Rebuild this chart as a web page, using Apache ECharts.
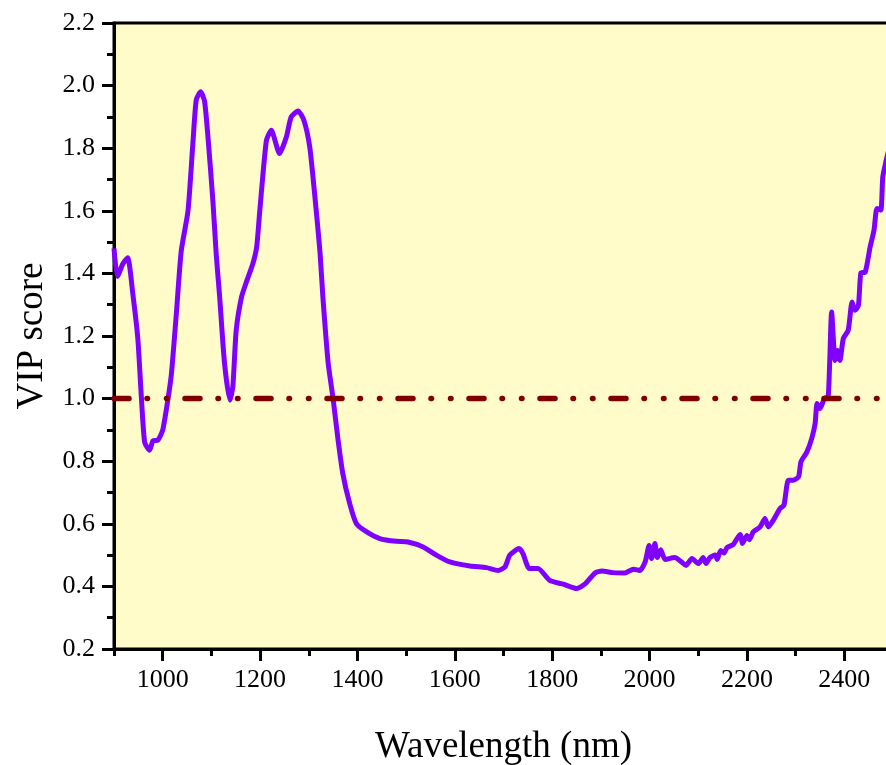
<!DOCTYPE html>
<html>
<head>
<meta charset="utf-8">
<script src="https://cdn.jsdelivr.net/npm/echarts@6/dist/echarts.min.js"></script>
<style>
  html, body { margin: 0; padding: 0; background: #fff; }
  #chart { width: 886px; height: 765px; }
</style>
</head>
<body>
<div id="chart"></div>
<script>
// wavelength (nm) and VIP score
var wavelength = [900, 907, 918, 928, 939, 949, 956, 963, 973, 980, 990, 1000, 1011, 1018, 1028, 1038,
  1052, 1062, 1069, 1078, 1086, 1093, 1103, 1110, 1117, 1127, 1138, 1144, 1151, 1162, 1172, 1185, 1193,
  1199, 1213, 1223, 1240, 1254, 1264, 1278, 1290, 1302, 1312, 1323, 1329, 1340, 1350, 1360, 1370, 1384,
  1398, 1419, 1446, 1480, 1504, 1535, 1562, 1590, 1631, 1665, 1689, 1703, 1713, 1732, 1740, 1753, 1771,
  1795, 1823, 1850, 1867, 1888, 1902, 1925, 1949, 1967, 1980, 1991, 1999, 2004, 2011, 2016, 2023, 2032,
  2052, 2063, 2075, 2087, 2100, 2110, 2116, 2124, 2135, 2139, 2146, 2153, 2159, 2172, 2186, 2191, 2200,
  2205, 2213, 2227, 2237, 2244, 2254, 2268, 2276, 2285, 2295, 2306, 2311, 2323, 2333, 2340, 2344, 2350,
  2359, 2367, 2374, 2381, 2386, 2391, 2398, 2408, 2416, 2422, 2429, 2434, 2443, 2453, 2461, 2467, 2475,
  2479, 2486, 2492];
var vipScore = [1.48, 1.39, 1.43, 1.45, 1.33, 1.19, 1.01, 0.86, 0.835, 0.865, 0.867, 0.899, 1.0, 1.08, 1.27, 1.47,
  1.6, 1.815, 1.955, 1.98, 1.95, 1.836, 1.634, 1.46, 1.325, 1.113, 0.995, 1.037, 1.218, 1.325, 1.373, 1.43, 1.484,
  1.592, 1.825, 1.857, 1.783, 1.836, 1.9, 1.919, 1.889, 1.804, 1.655, 1.47, 1.325, 1.112, 1.0, 0.87, 0.76, 0.665,
  0.6, 0.574, 0.553, 0.544, 0.542, 0.526, 0.5, 0.478, 0.465, 0.46, 0.451, 0.462, 0.5, 0.521, 0.505, 0.457, 0.457,
  0.419, 0.407, 0.393, 0.407, 0.443, 0.449, 0.444, 0.443, 0.455, 0.451, 0.478, 0.531, 0.489, 0.537, 0.492, 0.517, 0.486,
  0.492, 0.481, 0.467, 0.489, 0.473, 0.492, 0.473, 0.492, 0.5, 0.486, 0.515, 0.507, 0.524, 0.534, 0.566, 0.537, 0.563,
  0.549, 0.574, 0.59, 0.617, 0.59, 0.611, 0.649, 0.659, 0.739, 0.739, 0.75, 0.798, 0.829, 0.872, 0.92, 0.984, 0.968,
  1.0, 1.007, 1.277, 1.122, 1.154, 1.122, 1.192, 1.218, 1.309, 1.282, 1.298, 1.401, 1.404, 1.484, 1.538, 1.607, 1.602,
  1.708, 1.761, 1.8];

// threshold line VIP = 1
var thresholdX = [900, 2500];
var thresholdY = [1.0, 1.0];

var xMajorTicks = [1000, 1200, 1400, 1600, 1800, 2000, 2200, 2400];
var xMinorTicks = [900, 1100, 1300, 1500, 1700, 1900, 2100, 2300, 2500];

var font = '"Liberation Serif", "DejaVu Serif", serif';

var chart = echarts.init(document.getElementById('chart'), null, { renderer: 'canvas' });

var option = {
  backgroundColor: '#ffffff',
  animation: false,
  grid: {
    left: 114, top: 23, width: 779, height: 626,
    outerBoundsMode: 'none',
    show: true,
    backgroundColor: '#fffcc9',
    borderColor: '#000',
    borderWidth: 3
  },
  xAxis: [
    {
      type: 'value',
      min: 900, max: 2500,
      position: 'bottom',
      name: 'Wavelength (nm)',
      nameLocation: 'middle',
      nameGap: 80,
      nameTextStyle: { fontFamily: font, fontSize: 37, color: '#000' },
      axisLine: { show: true, onZero: false, lineStyle: { color: '#000', width: 3 } },
      axisTick: { show: true, inside: false, length: 12, customValues: xMajorTicks,
        lineStyle: { color: '#000', width: 3 } },
      axisLabel: { show: true, margin: 18, customValues: xMajorTicks,
        fontFamily: font, fontSize: 26, color: '#000',
        formatter: function (v) { return String(v); } },
      splitLine: { show: false }
    },
    {
      type: 'value',
      min: 900, max: 2500,
      position: 'bottom',
      axisLine: { show: false },
      axisTick: { show: true, inside: false, length: 7, customValues: xMinorTicks,
        lineStyle: { color: '#000', width: 3 } },
      axisLabel: { show: false },
      splitLine: { show: false }
    }
  ],
  yAxis: {
    type: 'value',
    min: 0.2, max: 2.2, interval: 0.2,
    name: 'VIP score',
    nameLocation: 'middle',
    nameGap: 63,
    nameTextStyle: { fontFamily: font, fontSize: 37, color: '#000' },
    axisLine: { show: true, onZero: false, lineStyle: { color: '#000', width: 3 } },
    axisTick: { show: true, inside: false, length: 12, lineStyle: { color: '#000', width: 3 } },
    minorTick: { show: true, splitNumber: 2, length: 7, lineStyle: { color: '#000', width: 3 } },
    axisLabel: {
      margin: 19, fontFamily: font, fontSize: 26, color: '#000',
      formatter: function (v) { return v.toFixed(1); }
    },
    splitLine: { show: false }
  },
  series: [
    {
      type: 'line',
      xAxisIndex: 0,
      data: wavelength.map(function (w, i) { return [w, vipScore[i]]; }),
      showSymbol: false,
      smooth: 0.2,
      clip: true,
      lineStyle: { color: '#7f00ff', width: 5, join: 'round' },
      z: 2
    },
    {
      type: 'line',
      xAxisIndex: 0,
      data: thresholdX.map(function (w, i) { return [w, thresholdY[i]]; }),
      showSymbol: false,
      clip: true,
      lineStyle: { color: '#800000', width: 5.5, cap: 'round', type: [15, 18, 0.5, 19, 0.5, 18] },
      z: 3
    }
  ]
};

chart.setOption(option);
</script>
</body>
</html>
